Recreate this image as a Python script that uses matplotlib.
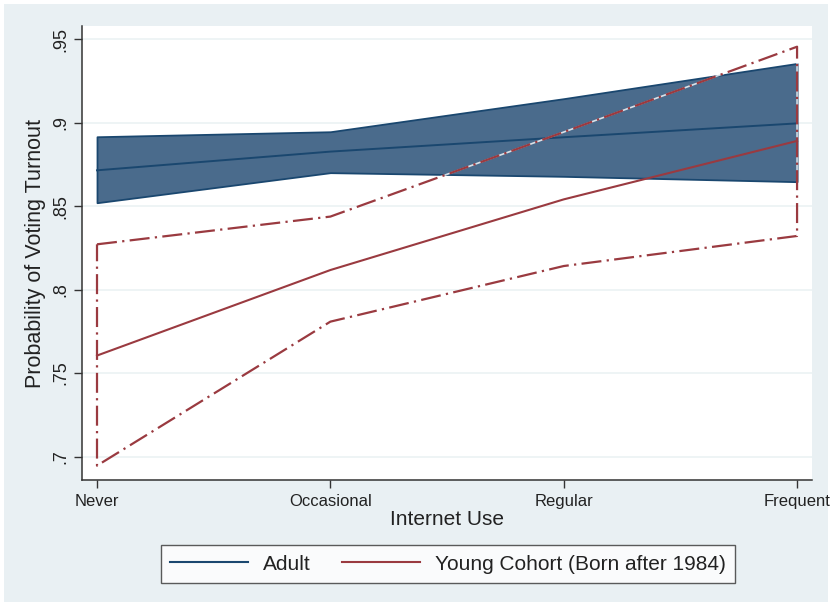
import matplotlib
matplotlib.use("Agg")
import matplotlib.pyplot as plt
from matplotlib.patches import Rectangle
from matplotlib.lines import Line2D

plt.rcParams['font.family'] = ['Liberation Sans', 'DejaVu Sans']

categories = ["Never", "Occasional", "Regular", "Frequent"]
adult_mean = [0.8714, 0.8826, 0.8912, 0.8995]
adult_lo = [0.8520, 0.8700, 0.8678, 0.8646]
adult_hi = [0.8915, 0.8945, 0.9143, 0.9354]
young_mean = [0.7605, 0.8117, 0.8540, 0.8890]
young_lo = [0.6946, 0.7808, 0.8141, 0.8321]
young_hi = [0.8271, 0.8437, 0.8943, 0.9454]
yticks = [0.7, 0.75, 0.8, 0.85, 0.9, 0.95]
yticklabels = [".7", ".75", ".8", ".85", ".9", ".95"]

NAVY = "#1a476f"
FILL = "#4a6b8c"
MAROON = "#9a3a40"
BG = "#e9f0f3"

W, H = 832, 606
fig = plt.figure(figsize=(W / 100, H / 100), dpi=100, facecolor="white")
fig.patches.append(Rectangle((4 / W, 4 / H), 824 / W, 598 / H,
                             transform=fig.transFigure, facecolor=BG,
                             edgecolor="none", zorder=-10))

ax = fig.add_axes([82 / W, 1 - 480 / H, 730 / W, 454 / H])
ax.set_facecolor("white")
x = list(range(len(categories)))

ax.fill_between(x, adult_lo, adult_hi, facecolor=FILL, edgecolor=NAVY,
                linewidth=1.3, zorder=2)
ax.plot(x, adult_mean, color=NAVY, lw=1.4, zorder=3)

# young CI outline (closed polygon, dash-dot)
xs = x + x[::-1] + [x[0]]
ys = young_hi + young_lo[::-1] + [young_hi[0]]
ax.plot(xs, ys, color="white", lw=1.2, zorder=3.5, alpha=0.8)
ax.plot(xs, ys, color=MAROON, lw=1.6, linestyle=(0, (9, 2.4, 1, 2.4)),
        zorder=4, solid_joinstyle="miter")
ax.plot(x, young_mean, color=MAROON, lw=1.5, zorder=4)

ax.set_xlim(-0.0643, 3.064)
ax.set_ylim(0.686, 0.9578)
ax.set_xticks(x)
ax.set_xticklabels(categories, fontsize=12, color="#222222")
ax.set_yticks(yticks)
ax.set_yticklabels(yticklabels, fontsize=13, color="#222222", rotation=90,
                   va="center")
ax.tick_params(axis="both", direction="out", length=6, width=1,
               color="#333333")
ax.tick_params(axis="x", pad=4)
ax.tick_params(axis="y", pad=3)
ax.grid(axis="y", color="#edf3f5", lw=1.3, zorder=0)
ax.set_axisbelow(True)
for s in ["top", "right"]:
    ax.spines[s].set_visible(False)
for s in ["left", "bottom"]:
    ax.spines[s].set_color("#333333")
    ax.spines[s].set_linewidth(1.1)

ax.set_xlabel("Internet Use", fontsize=15, color="#222222", labelpad=1)
ax.set_ylabel("Probability of Voting Turnout", fontsize=15.5,
              color="#222222", labelpad=5)

handles = [Line2D([], [], color=NAVY, lw=1.5),
           Line2D([], [], color=MAROON, lw=1.5)]
leg = fig.legend(handles, ["Adult", "Young Cohort (Born after 1984)"],
                 loc="center", bbox_to_anchor=(448 / W, 1 - 564 / H),
                 ncol=2, fontsize=15, frameon=True, fancybox=False,
                 handlelength=3.75, handletextpad=0.7, columnspacing=1.5,
                 borderpad=0.45)
leg.get_frame().set_edgecolor("#333333")
leg.get_frame().set_linewidth(1.0)
for t in leg.get_texts():
    t.set_color("#222222")

fig.savefig("out.png", dpi=100, facecolor="white")
